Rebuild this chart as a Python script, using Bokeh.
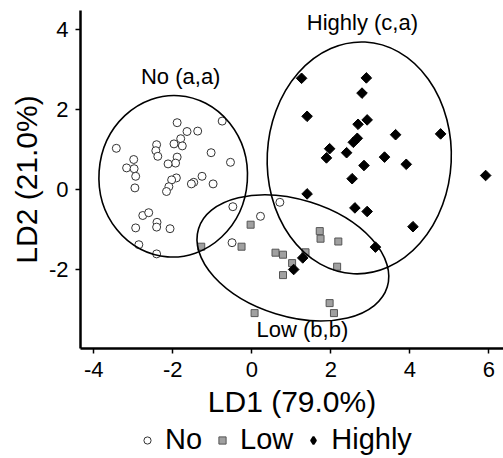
import numpy as np
from bokeh.plotting import figure
from bokeh.layouts import column
from bokeh.models import Range1d, FixedTicker, Legend, LegendItem
from bokeh.core.properties import value
from bokeh.embed import file_html
from bokeh.resources import INLINE

FONT = "Liberation Sans"

# --- data ---
no_x = [-1.89, -0.75, -1.64, -1.37, -3.43, -2.41, -2.43, -2.38, -1.97, -1.80, -1.76,
        -1.89, -1.93, -2.12, -1.03, -0.54, -2.99, -3.17, -2.98, -2.94, -2.96, -1.91,
        -2.03, -2.10, -2.16, -1.47, -1.53, -1.26, -0.98, -2.76, -2.61, -2.40, -2.41,
        -2.94, -2.07, -2.86, -2.41, -0.48, -0.50, 0.22, 0.71]
no_y = [1.67, 1.71, 1.45, 1.46, 1.03, 1.12, 0.97, 0.83, 1.14, 1.27, 1.09,
        0.81, 0.66, 0.64, 0.92, 0.68, 0.75, 0.54, 0.52, 0.33, 0.04, 0.29,
        0.24, 0.07, -0.05, 0.18, 0.14, 0.33, 0.14, -0.65, -0.58, -0.82, -0.94,
        -0.96, -0.98, -1.38, -1.61, -0.43, -1.33, -0.67, -0.32]

low_x = [-0.03, -0.26, -1.28, 0.60, 0.79, 1.36, 1.02, 0.79, 1.72, 1.74, 2.19, 2.16, 1.97, 2.08, 0.07]
low_y = [-0.88, -1.43, -1.43, -1.58, -1.63, -1.57, -1.84, -2.14, -1.04, -1.23, -1.30, -1.93, -2.84, -3.09, -3.09]

hi_x = [1.26, 2.90, 2.79, 1.40, 2.69, 2.92, 2.67, 2.57, 3.64, 4.78, 1.97, 1.89, 2.40,
        3.36, 2.84, 3.91, 2.54, 5.92, 1.40, 2.61, 2.92, 4.08, 3.13, 1.29, 1.06]
hi_y = [2.78, 2.79, 2.41, 1.83, 1.63, 1.74, 1.28, 1.18, 1.37, 1.39, 1.02, 0.79, 0.92,
        0.81, 0.60, 0.63, 0.27, 0.35, -0.11, -0.46, -0.55, -0.93, -1.44, -1.71, -2.00]

# confidence ellipses: No, Low, Highly
ell_x = [-1.99, 1.04, 2.72]
ell_y = [0.33, -1.71, 0.79]
ell_w = [3.76, 5.00, 4.66]
ell_h = [4.04, 2.92, 5.80]
ell_angle = [-0.07, -0.30, -0.05]

lab_text = ["No (a,a)", "Low (b,b)", "Highly (c,a)"]
lab_x = [-1.80, 1.28, 2.80]
lab_y = [2.575, -3.76, 3.925]

legend_labels = ["No", "Low", "Highly"]
x_ticks = [-4, -2, 0, 2, 4, 6]
y_ticks = [-2, 0, 2, 4]

p = figure(width=503, height=420,
           x_range=Range1d(-4.337, 6.372), y_range=Range1d(-3.975, 4.475),
           output_backend="svg", toolbar_location=None,
           min_border_left=80, min_border_right=0, min_border_top=10, min_border_bottom=72)
p.outline_line_color = None
p.grid.visible = False

r_no = p.scatter(no_x, no_y, marker="circle", size=8, fill_color="white",
                 line_color="#333333", line_width=1)
r_low = p.scatter(low_x, low_y, marker="square", size=7, fill_color="#a0a0a0",
                  line_color="#555555", line_width=1)
r_hi = p.scatter(hi_x, hi_y, marker="square", angle=np.pi / 4, size=7.5,
                 fill_color="black", line_color="black", line_width=1)

p.ellipse(x=ell_x, y=ell_y, width=ell_w, height=ell_h, angle=ell_angle,
          fill_color=None, line_color="black", line_width=1.6)

p.text(x=lab_x, y=lab_y, text=lab_text, text_font=value(FONT),
       text_font_size=value("22px"), text_align="center",
       text_baseline="alphabetic", text_color="black", y_offset=-10)

for ax in (p.xaxis[0], p.yaxis[0]):
    ax.axis_line_width = 2.5
    ax.axis_line_color = "black"
    ax.major_tick_line_width = 1.5
    ax.major_tick_line_color = "black"
    ax.major_tick_out = 5
    ax.major_tick_in = 0
    ax.minor_tick_line_color = None
    ax.major_label_text_font = FONT
    ax.major_label_text_font_size = "22px"
    ax.major_label_text_color = "black"
    ax.axis_label_text_font = FONT
    ax.axis_label_text_font_size = "30px"
    ax.axis_label_text_font_style = "normal"
    ax.axis_label_text_color = "black"

p.xaxis.ticker = FixedTicker(ticks=x_ticks)
p.yaxis.ticker = FixedTicker(ticks=y_ticks)
p.xaxis.major_label_overrides = {t: str(t) for t in x_ticks}
p.yaxis.major_label_overrides = {t: str(t) for t in y_ticks}
p.xaxis.axis_label = "LD1 (79.0%)"
p.yaxis.axis_label = "LD2 (21.0%)"
p.xaxis.major_label_standoff = 8
p.yaxis.major_label_standoff = 7
p.xaxis.axis_label_standoff = 5
p.yaxis.axis_label_standoff = 3

# legend strip below the chart
q = figure(width=503, height=38, output_backend="svg", toolbar_location=None,
           x_range=Range1d(0, 1), y_range=Range1d(0, 1),
           min_border_left=80, min_border_right=0, min_border_top=0, min_border_bottom=0)
q.axis.visible = False
q.grid.visible = False
q.outline_line_color = None
nan = np.array([np.nan])
l_no = q.scatter(nan, nan, marker="circle", fill_color="white", line_color="#333333", line_width=1)
l_low = q.scatter(nan, nan, marker="square", fill_color="#a0a0a0", line_color="#555555", line_width=1)
l_hi = q.scatter(nan, nan, marker="diamond", fill_color="black", line_color="black", line_width=2)

legend = Legend(items=[LegendItem(label=legend_labels[0], renderers=[l_no]),
                       LegendItem(label=legend_labels[1], renderers=[l_low]),
                       LegendItem(label=legend_labels[2], renderers=[l_hi])],
                orientation="horizontal", location=(58, 2),
                label_text_font=FONT, label_text_font_size="29px",
                label_text_color="black",
                glyph_width=18, glyph_height=18, label_standoff=9, spacing=11,
                border_line_color=None, background_fill_alpha=0,
                padding=0, margin=0)
q.add_layout(legend, "center")

layout = column(p, q, spacing=0)
open("out.html", "w").write(file_html(layout, INLINE))
